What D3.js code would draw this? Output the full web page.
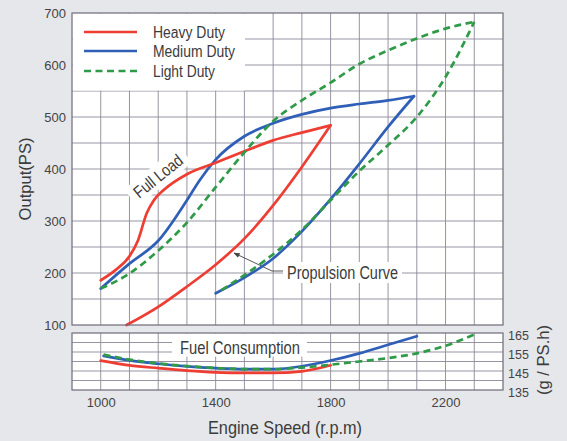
<!DOCTYPE html>
<html>
<head>
<meta charset="utf-8">
<script src="https://cdn.jsdelivr.net/npm/d3@7"></script>
<style>
    html, body { margin: 0; padding: 0; background: #e6e7ea; }
    #chart { width: 567px; height: 441px; }
    text { font-family: "Liberation Sans", Arial, sans-serif; fill: #3b3b3b; }
    .grid line { stroke: #8d8899; stroke-width: 0.9; }
    .frame { fill: none; stroke: #6f6a7a; stroke-width: 1.2; }
    .axis text { font-size: 13px; fill: #444; }
    .axis path { display: none; }
</style>
</head>
<body>
<div id="chart"></div>
<script>

// ---- data ----
const rpmTicks = [1000, 1400, 1800, 2200];
const outputTicks = [100, 200, 300, 400, 500, 600, 700];
const fuelTicks = [135, 145, 155, 165];

const dutyNames = ["Heavy Duty", "Medium Duty", "Light Duty"];
const dutyColors = ["#ee3d33", "#2f5fb6", "#2f9a47"];

// [rpm, PS]
const heavyFullLoad = [[1000, 186], [1050, 205], [1100, 232], [1130, 263], [1160, 315], [1185, 340], [1220, 360],
    [1300, 390], [1400, 412], [1500, 434], [1600, 455], [1700, 470], [1800, 484]];
const heavyPropulsion = [[1090, 100], [1200, 135], [1300, 174], [1400, 216], [1500, 266], [1600, 330], [1700, 404], [1800, 484]];

const mediumFullLoad = [[1000, 170], [1100, 218], [1200, 262], [1300, 340], [1345, 379], [1400, 418], [1500, 463],
    [1600, 488], [1700, 505], [1800, 517], [1900, 525], [2000, 532], [2090, 540]];
const mediumPropulsion = [[1400, 161], [1500, 191], [1600, 228], [1700, 280], [1800, 342], [1900, 410], [2000, 481], [2090, 540]];

const lightFullLoad = [[1000, 170], [1100, 199], [1200, 243], [1300, 297], [1400, 365], [1500, 432], [1600, 492],
    [1700, 532], [1800, 566], [1900, 602], [2000, 628], [2100, 651], [2200, 670], [2300, 683]];
const lightPropulsion = [[1420, 167], [1500, 196], [1600, 236], [1700, 283], [1800, 340], [1900, 396], [2000, 446],
    [2100, 500], [2200, 577], [2300, 683]];

// [rpm, g/PS.h]
const heavyFuel = [[1000, 150.5], [1100, 148], [1200, 146.5], [1300, 145.2], [1400, 144.3], [1500, 144],
    [1600, 144], [1700, 144.8], [1800, 148]];
const mediumFuel = [[1010, 153], [1100, 150.6], [1200, 148.8], [1300, 147.4], [1400, 146.5], [1500, 146],
    [1600, 146], [1700, 147.5], [1800, 150.5], [1900, 154.3], [2000, 158.8], [2100, 163.3]];
const lightFuel = [[1010, 153.6], [1100, 151], [1200, 149], [1300, 147.6], [1400, 146.6], [1500, 146],
    [1600, 146], [1700, 146.8], [1800, 148.3], [1900, 150], [2000, 151.8], [2100, 154.3], [2200, 158.3], [2310, 164.8]];


class EngineChart {

    constructor(parentElement) {
        this.parentElement = parentElement;
        this.initVis();
    }

    initVis() {
        let vis = this;

        vis.width = 567;
        vis.height = 441;

        vis.svg = d3.select("#" + vis.parentElement).append("svg")
            .attr("width", vis.width)
            .attr("height", vis.height);

        // scales
        vis.x = d3.scaleLinear().domain([900, 2400]).range([72, 503]);
        vis.yOut = d3.scaleLinear().domain([100, 700]).range([325, 13]);
        vis.yFuel = d3.scaleLinear().domain([135, 165]).range([390, 333]);

        vis.drawPanels();
        vis.drawLabels();
        vis.drawCurves();
        vis.drawAxes();
    }

    // the print uses a condensed face, so squeeze the regular one to the measured width
    addText(parent, str, size, len) {
        return parent.append("text")
            .style("font-size", size + "px")
            .attr("textLength", len)
            .attr("lengthAdjust", "spacingAndGlyphs")
            .text(str);
    }

    drawPanels() {
        let vis = this;
        let x0 = vis.x.range()[0], x1 = vis.x.range()[1];

        // white plot areas
        vis.svg.append("rect").attr("fill", "#fff")
            .attr("x", x0).attr("y", vis.yOut(700))
            .attr("width", x1 - x0).attr("height", vis.yOut(100) - vis.yOut(700));
        vis.svg.append("rect").attr("fill", "#fff")
            .attr("x", x0).attr("y", vis.yFuel(165))
            .attr("width", x1 - x0).attr("height", vis.yFuel(135) - vis.yFuel(165));

        let vGrid = d3.range(1000, 2400, 100);
        let grid = vis.svg.append("g").attr("class", "grid");

        grid.selectAll(".v-main").data(vGrid).join("line")
            .attr("x1", d => vis.x(d)).attr("x2", d => vis.x(d))
            .attr("y1", vis.yOut(700)).attr("y2", vis.yOut(100));
        grid.selectAll(".h-main").data(d3.range(150, 700, 50)).join("line")
            .attr("x1", x0).attr("x2", x1)
            .attr("y1", d => vis.yOut(d)).attr("y2", d => vis.yOut(d));

        grid.selectAll(".v-fuel").data(vGrid).join("line")
            .attr("x1", d => vis.x(d)).attr("x2", d => vis.x(d))
            .attr("y1", vis.yFuel(165)).attr("y2", vis.yFuel(135));
        grid.selectAll(".h-fuel").data(d3.range(140, 165, 5)).join("line")
            .attr("x1", x0).attr("x2", x1)
            .attr("y1", d => vis.yFuel(d)).attr("y2", d => vis.yFuel(d));

        // legend box hides the grid in the upper-left corner
        vis.svg.append("rect").attr("fill", "#fff")
            .attr("x", x0 + 0.6).attr("y", vis.yOut(700) + 0.6)
            .attr("width", vis.x(1500) - x0).attr("height", vis.yOut(550) - vis.yOut(700) - 1);

        vis.frameTop = [x0, vis.yOut(700), x1 - x0, vis.yOut(100) - vis.yOut(700)];
        vis.frameBottom = [x0, vis.yFuel(165), x1 - x0, vis.yFuel(135) - vis.yFuel(165)];
    }

    drawLabels() {
        let vis = this;

        // "Full Load" on a rotated white patch
        let fl = vis.svg.append("g").attr("transform", "translate(158,176) rotate(-39)");
        fl.append("rect").attr("fill", "#fff")
            .attr("x", -35).attr("y", -11).attr("width", 70).attr("height", 22);
        vis.addText(fl, "Full Load", 17, 58)
            .attr("x", -29).attr("dy", "0.36em");

        // "Propulsion Curve" with leader arrow
        vis.svg.append("defs").append("marker")
            .attr("id", "arrow").attr("viewBox", "0 0 10 10")
            .attr("refX", 9).attr("refY", 5)
            .attr("markerWidth", 7).attr("markerHeight", 7)
            .attr("orient", "auto-start-reverse")
            .append("path").attr("d", "M0,1 L10,5 L0,9 Z").attr("fill", "#444");

        vis.svg.append("rect").attr("fill", "#fff")
            .attr("x", 283).attr("y", 262).attr("width", 119).attr("height", 21);
        vis.addText(vis.svg, "Propulsion Curve", 17.5, 111)
            .attr("x", 287).attr("y", vis.yOut(200)).attr("dy", "0.36em");
        vis.svg.append("path")
            .attr("d", "M283,271 L272,271 L234,253")
            .attr("fill", "none").attr("stroke", "#444").attr("stroke-width", 0.9)
            .attr("marker-end", "url(#arrow)");

        // "Fuel Consumption" patch
        vis.svg.append("rect").attr("fill", "#fff")
            .attr("x", 172).attr("y", vis.yFuel(165) + 0.6).attr("width", 135).attr("height", 23);
        vis.addText(vis.svg, "Fuel Consumption", 17.5, 120)
            .attr("x", 180).attr("y", 354);

        // legend
        let legend = vis.svg.append("g").attr("class", "legend");
        let legY = [32, 51, 71];
        let legLen = [72, 82, 62];
        dutyNames.forEach((name, i) => {
            legend.append("line")
                .attr("x1", 84).attr("x2", 137)
                .attr("y1", legY[i]).attr("y2", legY[i])
                .attr("stroke", dutyColors[i]).attr("stroke-width", 2.7)
                .attr("stroke-dasharray", i === 2 ? "7,4.5" : null);
            vis.addText(legend, name, 16, legLen[i])
                .attr("x", 153).attr("y", legY[i]).attr("dy", "0.36em");
        });
    }

    drawCurves() {
        let vis = this;

        let lineOut = d3.line()
            .x(d => vis.x(d[0]))
            .y(d => vis.yOut(d[1]))
            .curve(d3.curveMonotoneX);

        let lineFuel = d3.line()
            .x(d => vis.x(d[0]))
            .y(d => vis.yFuel(d[1]))
            .curve(d3.curveMonotoneX);

        // green dashed drawn last in each panel so it sits on top like the print
        let series = [
            {data: heavyFuel, line: lineFuel, duty: 0},
            {data: mediumFuel, line: lineFuel, duty: 1},
            {data: lightFuel, line: lineFuel, duty: 2},
            {data: mediumFullLoad, line: lineOut, duty: 1},
            {data: mediumPropulsion, line: lineOut, duty: 1},
            {data: heavyFullLoad, line: lineOut, duty: 0},
            {data: heavyPropulsion, line: lineOut, duty: 0},
            {data: lightFullLoad, line: lineOut, duty: 2},
            {data: lightPropulsion, line: lineOut, duty: 2}
        ];

        vis.svg.append("g").selectAll("path")
            .data(series)
            .join("path")
            .attr("fill", "none")
            .attr("stroke", d => dutyColors[d.duty])
            .attr("stroke-width", 2.7)
            .attr("stroke-linecap", d => d.duty === 2 ? "butt" : "round")
            .attr("stroke-linejoin", "round")
            .attr("stroke-dasharray", d => d.duty === 2 ? "7,4.5" : null)
            .attr("d", d => d.line(d.data));

        // frames
        [vis.frameTop, vis.frameBottom].forEach(f => {
            vis.svg.append("rect").attr("class", "frame")
                .attr("x", f[0]).attr("y", f[1]).attr("width", f[2]).attr("height", f[3]);
        });
    }

    drawAxes() {
        let vis = this;

        vis.svg.append("g").attr("class", "axis y-axis")
            .attr("transform", `translate(${vis.x.range()[0]},0)`)
            .call(d3.axisLeft(vis.yOut).tickValues(outputTicks).tickSize(0).tickPadding(6));

        vis.svg.append("g").attr("class", "axis x-axis")
            .attr("transform", `translate(0,${vis.yFuel(135)})`)
            .call(d3.axisBottom(vis.x).tickValues(rpmTicks).tickFormat(d3.format("d"))
                .tickSize(0).tickPadding(8));

        let fuelAxis = vis.svg.append("g").attr("class", "axis fuel-axis")
            .attr("transform", `translate(${vis.x.range()[1]},0)`)
            .call(d3.axisRight(vis.yFuel).tickValues(fuelTicks).tickSize(0).tickPadding(5));
        fuelAxis.selectAll("text").style("font-size", "12.5px").attr("dy", "0.55em");

        vis.addText(vis.svg, "Output(PS)", 16.5, 83)
            .attr("transform", "translate(31,179) rotate(-90)")
            .attr("text-anchor", "middle");

        vis.addText(vis.svg, "(g / PS.h)", 16.5, 70)
            .attr("transform", "translate(549,360) rotate(-90)")
            .attr("text-anchor", "middle");

        vis.addText(vis.svg, "Engine Speed (r.p.m)", 18.5, 154)
            .attr("x", 285).attr("y", 434)
            .attr("text-anchor", "middle");
    }
}

new EngineChart("chart");

</script>
</body>
</html>
